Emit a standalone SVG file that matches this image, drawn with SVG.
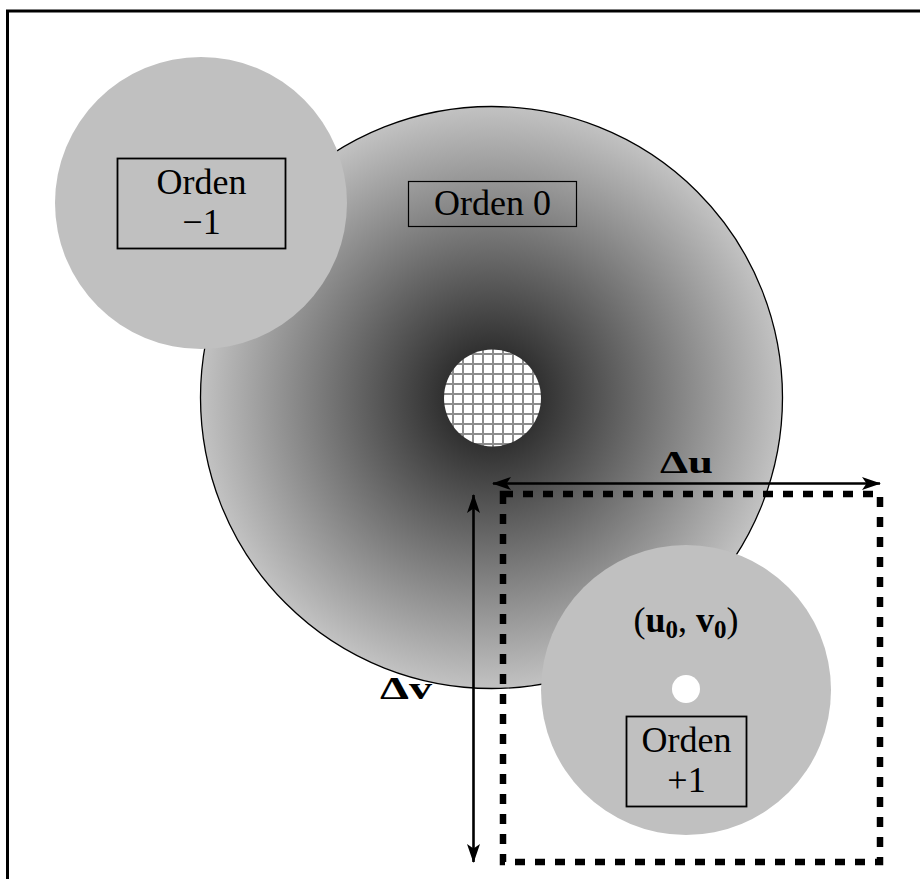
<svg xmlns="http://www.w3.org/2000/svg" width="920" height="879" viewBox="0 0 920 879">
  <style>
    .lbl { font-family: "Liberation Serif", "DejaVu Serif", serif; font-size: 36px; fill: #000; text-anchor: middle; }
    .math { font-family: "Liberation Serif", "DejaVu Serif", serif; font-weight: bold; fill: #000; }
    .order { fill: #c0c0c0; stroke: none; }
    .box { fill: none; stroke: #000; }
    .arrow { stroke: #000; stroke-width: 2.6; fill: none; }
  </style>
  <defs>
    <radialGradient id="zeroShade" gradientUnits="userSpaceOnUse" cx="491.5" cy="397.5" r="291">
      <stop offset="0" stop-color="#141414"/>
      <stop offset="1" stop-color="#c2c2c2"/>
    </radialGradient>
    <pattern id="grid" patternUnits="userSpaceOnUse" x="2" y="3" width="10" height="10">
      <rect width="10" height="10" fill="#fff"/>
      <path d="M0 1H10M1 0V10" stroke="#8c8c8c" stroke-width="2"/>
    </pattern>
    <marker id="head" viewBox="0 0 20 14" refX="18" refY="7" markerWidth="20" markerHeight="14" markerUnits="userSpaceOnUse" orient="auto-start-reverse">
      <path d="M0 0.5 L19 7 L0 13.5 L4.5 7 Z" fill="#000"/>
    </marker>
  </defs>

  <!-- frame -->
  <rect x="7.5" y="11" width="940" height="900" fill="#fff" stroke="#000" stroke-width="3"/>

  <!-- zero order disc -->
  <g id="orden0">
    <circle cx="491.5" cy="397.5" r="291" fill="url(#zeroShade)" stroke="#000" stroke-width="1.3"/>
    <circle cx="492.5" cy="398" r="48.5" fill="url(#grid)"/>
    <rect class="box" x="408.5" y="181.5" width="168" height="45" stroke-width="1.2"/>
    <text class="lbl" x="492.5" y="215">Orden 0</text>
  </g>

  <!-- order -1 disc -->
  <g id="orden-1">
    <circle class="order" cx="201" cy="203" r="146"/>
    <rect class="box" x="117.5" y="158.5" width="168" height="90" stroke-width="1.8"/>
    <text class="lbl" x="201.5" y="194">Orden</text>
    <text class="lbl" x="201.5" y="234">&#8722;1</text>
  </g>

  <!-- order +1 disc -->
  <g id="orden1">
    <circle class="order" cx="686" cy="690" r="145"/>
    <circle cx="686" cy="689" r="14" fill="#fff"/>
    <text class="lbl" x="686" y="632"><tspan>(</tspan><tspan font-weight="bold">u</tspan><tspan font-weight="bold" font-size="25" dy="6">0</tspan><tspan dy="-6">, </tspan><tspan font-weight="bold">v</tspan><tspan font-weight="bold" font-size="25" dy="6">0</tspan><tspan dy="-6">)</tspan></text>
    <rect class="box" x="626.5" y="716.5" width="120" height="90" stroke-width="1.8"/>
    <text class="lbl" x="686.5" y="752">Orden</text>
    <text class="lbl" x="686.5" y="792">+1</text>
  </g>

  <!-- search window -->
  <g id="ventana">
    <rect x="503" y="494" width="377" height="368" fill="none" stroke="#000" stroke-width="6.5" stroke-dasharray="10 10"/>
  </g>

  <!-- displacement arrows -->
  <g id="conectores">
    <line class="arrow" x1="493" y1="483.5" x2="880" y2="483.5" marker-start="url(#head)" marker-end="url(#head)"/>
    <line class="arrow" x1="473.5" y1="495" x2="473.5" y2="862" marker-start="url(#head)" marker-end="url(#head)"/>
    <text class="math" x="660" y="473" font-size="32" textLength="53" lengthAdjust="spacingAndGlyphs">&#916;u</text>
    <text class="math" x="380" y="699" font-size="32" textLength="52" lengthAdjust="spacingAndGlyphs">&#916;v</text>
  </g>
</svg>
